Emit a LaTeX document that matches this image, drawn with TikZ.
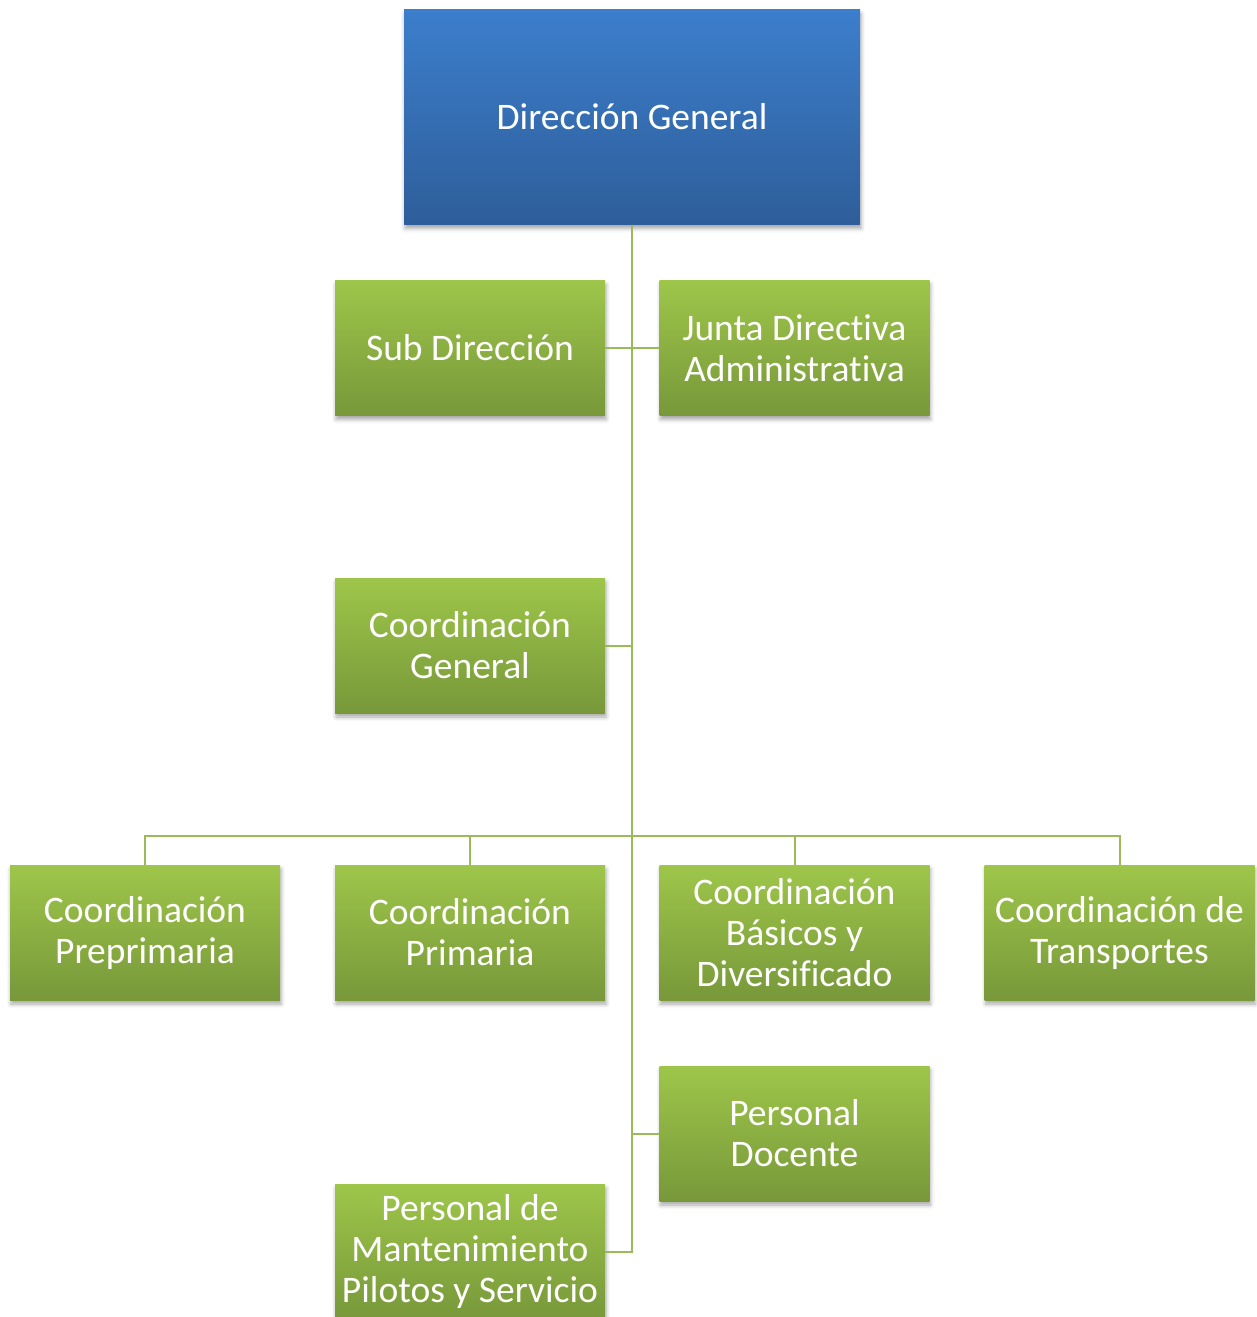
\documentclass[tikz,border=0pt]{standalone}
\usepackage{fontspec}
\setmainfont[Ligatures={NoCommon}]{Carlito}
\usetikzlibrary{shadows.blur}
\definecolor{gtop}{RGB}{158,198,74}
\definecolor{gbot}{RGB}{120,152,58}
\definecolor{btop}{RGB}{60,126,204}
\definecolor{bbot}{RGB}{46,94,154}
\definecolor{lineg}{RGB}{155,187,89}
\tikzset{
  box/.style={rectangle, inner sep=0pt, minimum width=270pt, minimum height=135pt,
    top color=gtop, bottom color=gbot, draw=none, text=white, align=center,
    font=\fontsize{37.5pt}{41pt}\selectfont,
    blur shadow={shadow xshift=1pt, shadow yshift=-4pt, shadow blur radius=4pt, shadow opacity=35}},
  topbox/.style={box, minimum width=456pt, minimum height=215pt, top color=btop, bottom color=bbot},
  conn/.style={draw=lineg, line width=2pt}
}
\begin{document}
\begin{tikzpicture}[x=1pt,y=-1pt]
\path[use as bounding box] (0,0) rectangle (1257,1317);
\clip (0,0) rectangle (1257,1317);
% nodes
\node[topbox] (dg) at (632,117) {Dirección General};
\node[box] (sub) at (470,348) {Sub Dirección};
\node[box] (jda) at (794.5,348) {Junta Directiva\\Administrativa};
\node[box] (cg) at (470,645.5) {Coordinación\\General};
\node[box] (cpre) at (145,932.5) {Coordinación\\Preprimaria};
\node[box] (cpri) at (470,932.5) {Coordinación\\Primaria};
\node[box] (cbd) at (794.5,932.5) {Coordinación\\Básicos y\\Diversificado};
\node[box] (ctr) at (1119.5,932.5) {Coordinación de\\Transportes};
\node[box] (pd) at (794.5,1133.5) {Personal\\Docente};
\node[box] (mant) at (470,1251.5) {Personal de\\Mantenimiento\\Pilotos y Servicio};
% connectors
\coordinate (j4) at (dg.south |- mant.east);
\coordinate (bus) at (632,836);
\draw[conn] (dg.south) -- (j4) -- (mant.east);
\draw[conn] (sub.east) -- (jda.west);
\draw[conn] (cg.east) -- (cg.east -| dg.south);
\draw[conn] (pd.west) -- (pd.west -| dg.south);
\draw[conn] (cpre.north) |- (bus) -| (ctr.north);
\draw[conn] (cpri.north) -- (cpri.north |- bus);
\draw[conn] (cbd.north) -- (cbd.north |- bus);
\end{tikzpicture}
\end{document}
